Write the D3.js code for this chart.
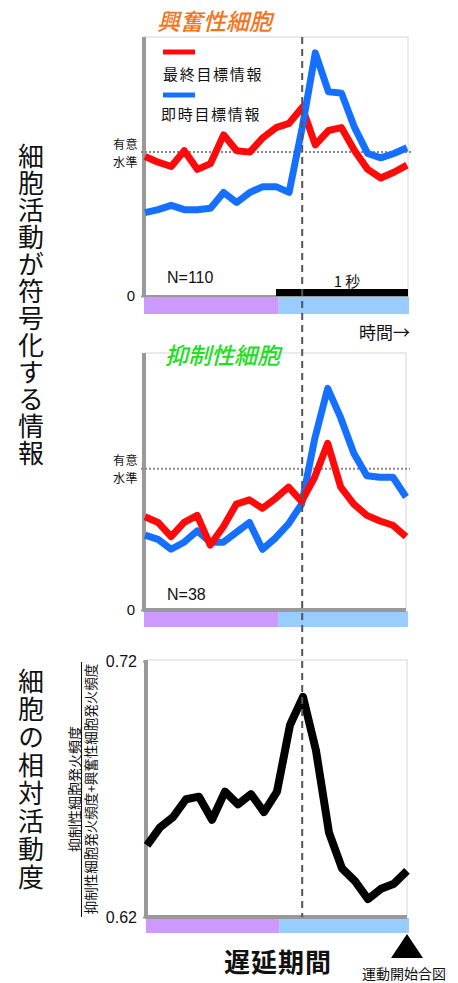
<!DOCTYPE html>
<html>
<head>
<meta charset="utf-8">
<script src="https://cdn.jsdelivr.net/npm/d3@7"></script>
<style>
  html, body { margin: 0; padding: 0; background: #fff; }
  svg { display: block; }
  text { font-family: "Noto Sans CJK JP", "Noto Sans", sans-serif; fill: #111; }
  .num { font-family: "Liberation Sans", Arial, sans-serif; }
</style>
</head>
<body>
<svg id="chart" width="458" height="983"></svg>
<script>
// Time from the go-cue reference (ms), one sample every 100 ms
const timesMs = [-1200, -1100, -1000, -900, -800, -700, -600, -500, -400, -300,
                 -200, -100, 0, 100, 200, 300, 400, 500, 600, 700, 800];

// Information encoded by excitatory cells (units of the significance level)
const excFinal     = [0.97, 0.93, 0.90, 1.01, 0.88, 0.92, 1.12, 1.01, 1.00, 1.10, 1.17,
                      1.20, 1.31, 1.05, 1.15, 1.17, 1.01, 0.88, 0.82, 0.86, 0.91];
const excImmediate = [0.58, 0.60, 0.63, 0.60, 0.60, 0.61, 0.72, 0.65, 0.72, 0.76, 0.76,
                      0.72, 1.17, 1.69, 1.42, 1.41, 1.17, 0.99, 0.96, 0.99, 1.03];

// Information encoded by inhibitory cells
const inhFinal     = [0.66, 0.62, 0.52, 0.62, 0.67, 0.46, 0.59, 0.75, 0.78, 0.72, 0.79,
                      0.87, 0.77, 0.94, 1.18, 0.87, 0.75, 0.67, 0.63, 0.60, 0.52];
const inhImmediate = [0.53, 0.50, 0.43, 0.48, 0.56, 0.48, 0.48, 0.55, 0.62, 0.43, 0.51,
                      0.61, 0.75, 1.21, 1.57, 1.36, 1.11, 0.95, 0.94, 0.94, 0.80];

// Relative activity: inhibitory / (inhibitory + excitatory) firing rate
const relActivity  = [0.648, 0.655, 0.659, 0.666, 0.667, 0.658, 0.669, 0.664, 0.668, 0.661, 0.669,
                      0.695, 0.706, 0.685, 0.653, 0.639, 0.634, 0.627, 0.631, 0.633, 0.638];

const sigLevel = 1;
const periodBounds = [-1200, -180, 800];   // first / second part of the delay period
const scaleBarMs = [-200, 800];            // 1 s scale bar
const ratioTicks = [0.62, 0.72];
const legendLabels = ["最終目標情報", "即時目標情報"];
const panelTitles = ["興奮性細胞", "抑制性細胞"];
const cellCounts = ["N=110", "N=38"];
const sigLabels = ["有意", "水準"];

const svg = d3.select("#chart");

const panels = [
  { x0: 145, x1: 407, fr: 408, top: 37,  bottom: 296, dom: [0, 1.8],  axisW: 2, barH: 17 },
  { x0: 145, x1: 406, fr: 406, top: 353, bottom: 610, dom: [0, 1.82], axisW: 4, barH: 16 },
  { x0: 147, x1: 407, fr: 407, top: 660, bottom: 917, dom: [0.62, 0.72], axisW: 4, barH: 15 }
];
panels.forEach(p => {
  p.x = d3.scaleLinear().domain([timesMs[0], timesMs[timesMs.length - 1]]).range([p.x0, p.x1]);
  p.y = d3.scaleLinear().domain(p.dom).range([p.bottom, p.top + (p.dom[0] === 0 ? 0 : 1)]);
});

const barColors = ["#cc99ff", "#99ccff"];

function drawFrame(p, tickVals, fmt) {
  const g = svg.append("g");
  g.append("rect").attr("x", p.x0).attr("y", p.top)
    .attr("width", p.fr - p.x0).attr("height", p.bottom - p.top)
    .attr("fill", "#fff").attr("stroke", "#d6d6d6").attr("stroke-width", 1);
  // period bars below the time axis
  g.selectAll("rect.period").data([0, 1]).join("rect").attr("class", "period")
    .attr("x", i => p.x(periodBounds[i]) - (i === 0 ? 1 : 0))
    .attr("y", p.bottom + 1)
    .attr("width", i => p.x(periodBounds[i + 1]) - p.x(periodBounds[i]) + (i === 0 ? 1 : 2))
    .attr("height", p.barH)
    .attr("fill", i => barColors[i]);
  // left axis with tick labels
  const ax = g.append("g").attr("transform", `translate(${p.x0},0)`)
    .call(d3.axisLeft(p.y).tickValues(tickVals).tickFormat(fmt).tickSize(4).tickPadding(6));
  ax.select(".domain").remove();
  ax.selectAll(".tick line").attr("stroke", "#999").attr("stroke-width", 2);
  ax.selectAll(".tick text").attr("class", "num").style("font-size", tickVals.length > 1 ? "16px" : "15px")
    .attr("fill", "#222");
  g.append("line").attr("x1", p.x0 - 1).attr("x2", p.x0 - 1)
    .attr("y1", p.top).attr("y2", p.bottom + 1)
    .attr("stroke", "#999").attr("stroke-width", 4);
  g.append("line").attr("x1", p.x0 - 2).attr("x2", p.fr)
    .attr("y1", p.bottom).attr("y2", p.bottom)
    .attr("stroke", "#999").attr("stroke-width", p.axisW);
  return g;
}

function drawSig(p) {
  const ys = p.y(sigLevel);
  svg.append("line").attr("x1", p.x0 - 4).attr("x2", p.fr + 4)
    .attr("y1", ys).attr("y2", ys)
    .attr("stroke", "#888").attr("stroke-width", 2).attr("stroke-dasharray", "2,2");
  // two short lines of text either side of the threshold
  [-9, 9].forEach((dy, i) => {
    svg.append("text").attr("x", p.x0 - 7).attr("y", ys + dy)
      .attr("text-anchor", "end").attr("dominant-baseline", "central")
      .style("font-size", "12px").style("letter-spacing", "0.5px").attr("fill", "#222")
      .text(sigLabels[i]);
  });
}

function drawSeries(p, vals, color, width) {
  const line = d3.line().x((d, i) => p.x(timesMs[i])).y(d => p.y(d));
  svg.append("path").datum(vals).attr("d", line)
    .attr("fill", "none").attr("stroke", color).attr("stroke-width", width)
    .attr("stroke-linejoin", "round").attr("stroke-linecap", "butt");
}

const RED = "#ff0a0a", BLUE = "#1670ff";

// ---------- excitatory cells ----------
const p1 = panels[0];
drawFrame(p1, [0], () => "0");
drawSig(p1);
drawSeries(p1, excFinal, RED, 7);
drawSeries(p1, excImmediate, BLUE, 7);
// 1 s scale bar
svg.append("rect").attr("x", p1.x(scaleBarMs[0])).attr("y", p1.bottom - 7)
  .attr("width", p1.x(scaleBarMs[1]) - p1.x(scaleBarMs[0]) + 1).attr("height", 7).attr("fill", "#000");
svg.append("text").attr("x", 347).attr("y", 287).attr("text-anchor", "middle")
  .style("font-size", "15px").text("1 秒");
svg.append("text").attr("x", 157).attr("y", 30)
  .style("font-size", "23px").style("font-style", "italic").style("font-weight", "500")
  .style("fill", "#f27420").text(panelTitles[0]);
// legend
[RED, BLUE].forEach((c, i) => {
  const yl = [52, 95][i];
  svg.append("line").attr("x1", 163).attr("x2", 195).attr("y1", yl).attr("y2", yl)
    .attr("stroke", c).attr("stroke-width", 5);
  svg.append("text").attr("x", [163, 161][i]).attr("y", [80, 120][i])
    .style("font-size", "15px").style("letter-spacing", "1.7px").text(legendLabels[i]);
});
svg.append("text").attr("class", "num").attr("x", 167).attr("y", 283)
  .style("font-size", "16px").text(cellCounts[0]);
svg.append("text").attr("x", 410).attr("y", 339).attr("text-anchor", "end")
  .style("font-size", "17px").text("時間→");

// ---------- inhibitory cells ----------
const p2 = panels[1];
drawFrame(p2, [0], () => "0");
drawSig(p2);
drawSeries(p2, inhImmediate, BLUE, 7);
drawSeries(p2, inhFinal, RED, 7);
svg.append("text").attr("x", 165).attr("y", 364)
  .style("font-size", "23px").style("font-style", "italic").style("font-weight", "500")
  .style("fill", "#22dd22").text(panelTitles[1]);
svg.append("text").attr("class", "num").attr("x", 167).attr("y", 600)
  .style("font-size", "16px").text(cellCounts[1]);

// ---------- relative activity ----------
const p3 = panels[2];
drawFrame(p3, ratioTicks, d3.format(".2f"));
drawSeries(p3, relActivity, "#000", 8);

// fraction label
svg.append("text").attr("transform", "translate(74,789) rotate(-90)")
  .attr("text-anchor", "middle").attr("dominant-baseline", "central")
  .style("font-size", "14px").text("抑制性細胞発火頻度");
svg.append("line").attr("x1", 81.5).attr("x2", 81.5).attr("y1", 662).attr("y2", 917)
  .attr("stroke", "#111").attr("stroke-width", 1);
svg.append("text").attr("transform", "translate(90,789) rotate(-90)")
  .attr("text-anchor", "middle").attr("dominant-baseline", "central")
  .style("font-size", "13.5px").text("抑制性細胞発火頻度+興奮性細胞発火頻度");

// go-cue dashed line through all panels
const xg = p1.x(0);
svg.append("line").attr("x1", xg).attr("x2", xg).attr("y1", 37).attr("y2", 917)
  .attr("stroke", "#555").attr("stroke-width", 2).attr("stroke-dasharray", "7,5");

// left column titles
svg.append("text").attr("x", 31).attr("y", 143)
  .style("writing-mode", "vertical-rl").style("font-size", "26px").style("letter-spacing", "1px")
  .text("細胞活動が符号化する情報");
svg.append("text").attr("x", 31).attr("y", 668)
  .style("writing-mode", "vertical-rl").style("font-size", "26px").style("letter-spacing", "2px")
  .text("細胞の相対活動度");

// bottom labels
svg.append("text").attr("x", 278).attr("y", 972).attr("text-anchor", "middle")
  .style("font-size", "26px").style("font-weight", "700").style("letter-spacing", "1px")
  .text("遅延期間");
const xe = p3.x(timesMs[timesMs.length - 1]);
svg.append("path")
  .attr("d", `M${xe},934 L${xe + 16},958 L${xe - 16},958 Z`).attr("fill", "#000");
svg.append("text").attr("x", 404).attr("y", 979).attr("text-anchor", "middle")
  .style("font-size", "14px").text("運動開始合図");
</script>
</body>
</html>
